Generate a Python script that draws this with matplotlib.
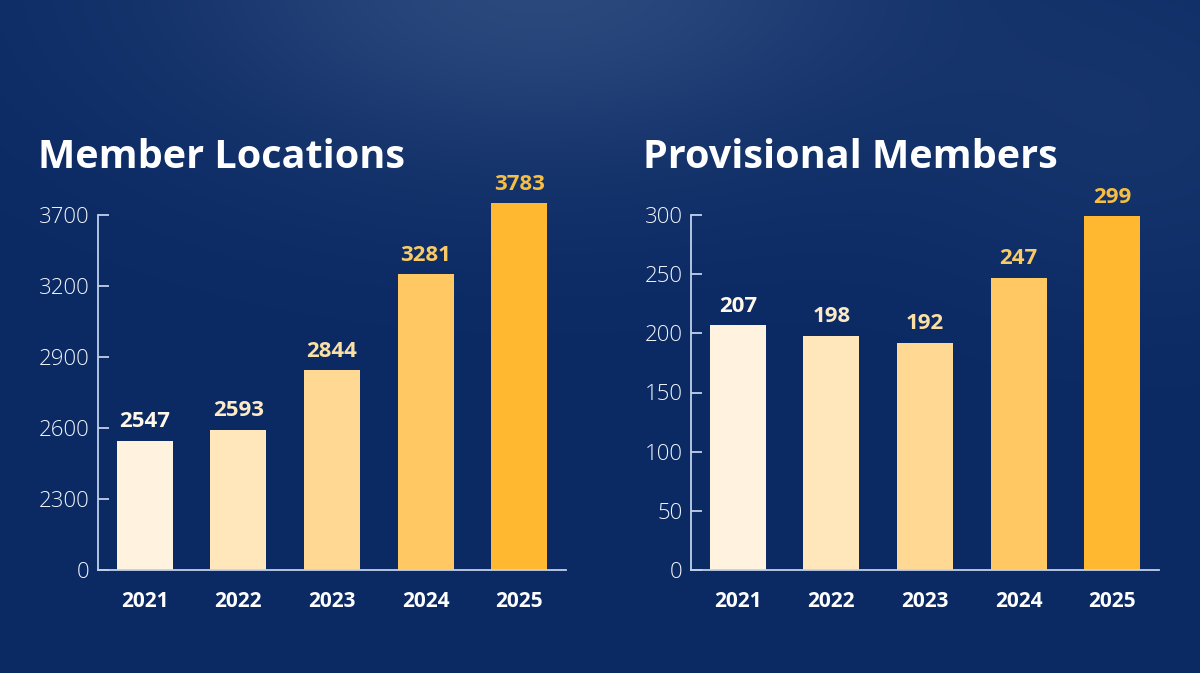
import numpy as np
import matplotlib
matplotlib.use("Agg")
import matplotlib.pyplot as plt

years = ["2021", "2022", "2023", "2024", "2025"]
member_locations = [2547, 2593, 2844, 3281, 3783]
provisional_members = [207, 198, 192, 247, 299]
left_ticks = [0, 2300, 2600, 2900, 3200, 3700]
right_ticks = [0, 50, 100, 150, 200, 250, 300]
titles = ["Member Locations", "Provisional Members"]

bar_colors = ["#FFF3DF", "#FFE6BB", "#FFD993", "#FFC862", "#FFB830"]
label_colors = ["#FFF7EA", "#FCEBC6", "#FBE0A6", "#F8CB67", "#F6BE42"]

TFAM = ["Open Sans", "DejaVu Sans"]
FAM = ["Open Sans", "DejaVu Sans"]

W, H = 1200, 673
fig = plt.figure(figsize=(W / 100, H / 100), dpi=100)

# background gradient
yy, xx = np.mgrid[0:H, 0:W]
base = np.array([0x0B, 0x29, 0x63]) / 255.0
glow = np.array([0x2B, 0x49, 0x7D]) / 255.0
g = np.exp(-(((xx - 540) / 380.0) ** 2 + ((yy + 20) / 190.0) ** 2))
g2 = 0.3 * np.exp(-(((xx - 1150) / 220.0) ** 2 + ((yy - 130) / 170.0) ** 2))
t = np.clip(g + g2, 0, 1)[..., None]
bg = base * (1 - t) + glow * t
bax = fig.add_axes([0, 0, 1, 1], zorder=-5)
bax.imshow(bg, aspect="auto", interpolation="bilinear")
bax.axis("off")

# piecewise scale for left chart (ticks evenly spaced)
tv = np.array(left_ticks, dtype=float)
ti = np.arange(len(left_ticks), dtype=float)


def fwd(v):
    v = np.asarray(v, dtype=float)
    out = np.interp(v, tv, ti)
    slope = (ti[-1] - ti[-2]) / (tv[-1] - tv[-2])
    return np.where(v > tv[-1], ti[-1] + (v - tv[-1]) * slope, out)


def inv(p):
    p = np.asarray(p, dtype=float)
    out = np.interp(p, ti, tv)
    slope = (tv[-1] - tv[-2]) / (ti[-1] - ti[-2])
    return np.where(p > ti[-1], tv[-1] + (p - ti[-1]) * slope, out)


axw = 468 / W
bottom = (H - 570) / H
height = (570 - 215) / H
ax1 = fig.add_axes([98 / W, bottom, axw, height])
ax2 = fig.add_axes([691 / W, bottom, axw, height])

ax1.set_yscale("function", functions=(fwd, inv))

spine_c = "#C3D0EC"
for ax, vals, ticks, title, tx in [
    (ax1, member_locations, left_ticks, titles[0], 38),
    (ax2, provisional_members, right_ticks, titles[1], 643),
]:
    ax.set_facecolor("none")
    x = np.arange(len(years))
    ax.bar(x, vals, width=0.6, color=bar_colors, clip_on=False, zorder=2)
    ax.set_xlim(-0.5, 4.5)
    ax.set_ylim(ticks[0], ticks[-1])
    ax.set_yticks(ticks)
    ax.set_yticklabels([str(v) for v in ticks])
    ax.set_xticks(x)
    ax.set_xticklabels(years)
    for s in ["top", "right"]:
        ax.spines[s].set_visible(False)
    for s in ["left", "bottom"]:
        ax.spines[s].set_color(spine_c)
        ax.spines[s].set_linewidth(1.3)
        ax.spines[s].set_zorder(3)
    ax.tick_params(axis="y", direction="in", length=8, width=1.3, color=spine_c,
                   labelcolor="#F2F5FB", labelsize=16, pad=6)
    ax.tick_params(axis="x", length=0, pad=15, labelcolor="white", labelsize=15)
    for lab in ax.get_yticklabels():
        lab.set_family(FAM)
        lab.set_fontweight("light")
    for lab in ax.get_xticklabels():
        lab.set_family(FAM)
        lab.set_fontweight("bold")
    for xi, v, c in zip(x, vals, label_colors):
        ax.annotate(str(v), (xi, v), xytext=(0, 6), textcoords="offset points",
                    ha="center", va="bottom", fontsize=16, fontweight="bold",
                    color=c, family=FAM, annotation_clip=False)
    fig.text(tx / W, (H - 168) / H, title, ha="left", va="baseline",
             fontsize=28.5, fontweight="bold", color="white", family=TFAM)

fig.savefig("out.png", dpi=100)
